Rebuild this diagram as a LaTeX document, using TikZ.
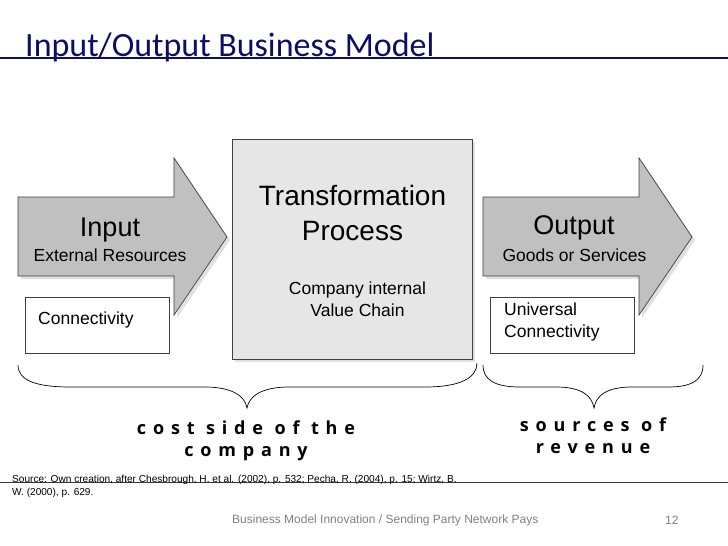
\documentclass[tikz,border=0pt]{standalone}
\usepackage{fontspec}
\setmainfont{Liberation Sans}
\newfontfamily\titlefont{Carlito}
\newfontfamily\bracefont[LetterSpace=38]{Open Sans}
\usetikzlibrary{shadows}
\definecolor{navy}{HTML}{0D0D66}
\definecolor{arrowgray}{HTML}{C0C0C0}
\definecolor{boxgray}{HTML}{E6E6E6}
\definecolor{edgegray}{HTML}{404040}
\definecolor{footgray}{HTML}{808080}
\tikzset{
  arrowshape/.style={fill=arrowgray, draw=edgegray, line width=0.7pt,
    drop shadow={shadow xshift=3pt, shadow yshift=-3pt, fill=black!12, opacity=1}},
  procbox/.style={fill=boxgray, draw=edgegray, line width=1pt, minimum width=240pt,
    minimum height=220pt, inner sep=0pt,
    drop shadow={shadow xshift=3pt, shadow yshift=-3pt, fill=black!12, opacity=1}},
  smallbox/.style={fill=white, draw=edgegray, line width=0.7pt, minimum width=144pt,
    minimum height=56pt, inner sep=0pt},
  bigtxt/.style={font=\fontsize{27}{32}\selectfont, inner sep=0pt},
  midtxt/.style={font=\fontsize{17.5}{22}\selectfont, inner sep=0pt},
  bracetxt/.style={font=\bracefont\bfseries\fontsize{18}{22}\selectfont, align=center, inner sep=0pt},
  bracepath/.style={draw=black, line width=0.7pt}
}
\begin{document}
\begin{tikzpicture}[x=1pt, y=-1pt]
\useasboundingbox (0,0) rectangle (728,546);
\fill[white] (0,0) rectangle (728,546);

% title
\draw[navy, line width=1.2pt] (0,58) -- (728,58);
\node[anchor=base west, font=\titlefont\fontsize{34}{40}\selectfont, text=navy, inner sep=0pt] (title) at (25,56) {Input/Output Business Model};

% input arrow
\path[arrowshape] (18,197) -- (174,197) -- (174,158) -- (227,237) -- (174,315) -- (174,276) -- (18,276) -- cycle;
\node[bigtxt] (inputT) at (110,230) {Input};
\node[midtxt] (inputS) at (110,255) {External Resources};

% process box
\node[procbox] (proc) at (352,249) {};
\node[font=\fontsize{28}{35}\selectfont, align=center, inner sep=0pt] (procT) at (352.5,212.5) {Transformation\\Process};
\node[midtxt, align=center] (procS) at (357.5,299) {Company internal\\Value Chain};

% output arrow
\path[arrowshape] (483,197) -- (639,197) -- (639,158) -- (692,237) -- (639,315) -- (639,276) -- (483,276) -- cycle;
\node[bigtxt] (outputT) at (574,228) {Output};
\node[midtxt] (outputS) at (574.5,255) {Goods or Services};

% small boxes
\node[smallbox] (conn) at (97,325) {};
\node[midtxt, anchor=west] (connT) at (38,320) {Connectivity};
\node[smallbox] (uconn) at (562,325) {};
\node[midtxt, anchor=north west, align=left] (uconnT) at (504,303) {Universal\\Connectivity};

% braces
\coordinate (b1l) at (18,365);
\coordinate (b1t) at (247,408);
\coordinate (b1r) at (477,363);
\draw[bracepath] (b1l) .. controls (18,380) and (35,387) .. (70,387) -- (205,387)
  .. controls (232,387) and (245,396) .. (b1t)
  .. controls (249,396) and (262,387) .. (289,387) -- (425,387)
  .. controls (460,387) and (477,378) .. (b1r);
\coordinate (b2l) at (483,365);
\coordinate (b2t) at (594,408);
\coordinate (b2r) at (703,365);
\draw[bracepath] (b2l) .. controls (483,380) and (495,387) .. (520,387) -- (556,387)
  .. controls (582,387) and (592,396) .. (b2t)
  .. controls (596,396) and (606,387) .. (632,387) -- (668,387)
  .. controls (692,387) and (703,380) .. (b2r);

\node[bracetxt] (costT) at (246,441) {cost side of the\\company};
\node[bracetxt] (revT) at (593,435.5) {sources of\\revenue};

% source and footer
\draw[edgegray!80!navy, line width=1pt] (0,482) -- (728,482);
\node[anchor=north west, align=left, font=\fontsize{10.1}{13}\selectfont, inner sep=0pt] (src) at (12,475)
  {Source: Own creation, after Chesbrough, H. et al. (2002), p. 532; Pecha, R. (2004), p. 15; Wirtz, B.\\W. (2000), p. 629.};
\node[anchor=west, font=\fontsize{12}{14}\selectfont, text=footgray, inner sep=0pt] (foot) at (232,520)
  {Business Model Innovation / Sending Party Network Pays};
\node[anchor=west, font=\fontsize{12}{14}\selectfont, text=footgray, inner sep=0pt] (page) at (665,520) {12};
\end{tikzpicture}
\end{document}
